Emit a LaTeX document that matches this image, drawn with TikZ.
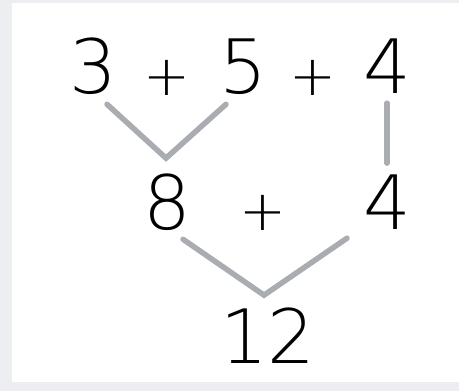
\documentclass[tikz,border=0pt]{standalone}
\usepackage{fontspec}
\newfontfamily\digitfont{DejaVu Sans ExtraLight}
\usetikzlibrary{calc}

\tikzset{
  num/.style={inner sep=0pt, anchor=base, font=\digitfont\fontsize{75}{75}\selectfont},
  plus/.style={inner sep=0pt, font=\digitfont\fontsize{56}{56}\selectfont},
  link/.style={draw=linkgray, line width=5.5pt, line cap=round, line join=miter}
}
\definecolor{linkgray}{HTML}{A9ADB1}
\definecolor{framegray}{HTML}{ECEEF1}

\begin{document}
\begin{tikzpicture}[x=1pt,y=-1pt]
    % Frame
    \fill[framegray] (0,0) rectangle (459,391);
    \fill[white] (12,3) rectangle (459,382);
    \useasboundingbox (0,0) rectangle (459,391);
    % Top row
    \node[num] (n3) at (93,93) {3};
    \node[plus] (p1) at (167,78) {+};
    \node[num] (n5) at (243,93) {5};
    \node[plus] (p2) at (313,78) {+};
    \node[num] (n4a) at (387,93) {4};
    % Middle row
    \node[num] (n8) at (167,229) {8};
    \node[plus] (p3) at (263,213) {+};
    \node[num] (n4b) at (387,229) {4};
    % Result
    \node[num] (n12) at (268,363) {12};
    % Links
    \draw[link] ($(n3.south)+(14,10)$) -- ($(n8.north)+(-1,-15)$) -- ($(n5.south)+(-17,10)$);
    \draw[link] ($(n4a.south)+(0,10)$) -- ($(n4b.north)+(0,-11)$);
    \draw[link] ($(n8.south)+(16,9)$) -- ($(n12.north)+(-4,-12)$) -- ($(n4b.south)+(-40,9)$);
\end{tikzpicture}
\end{document}
